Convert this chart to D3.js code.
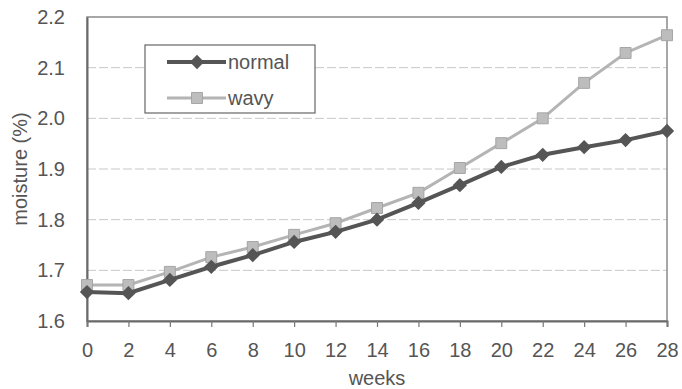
<!DOCTYPE html>
<html>
<head>
<meta charset="utf-8">
<script src="https://cdn.jsdelivr.net/npm/d3@7"></script>
<style>
    body { margin: 0; background: #fff; }
    svg text { font-family: "Liberation Sans", Arial, sans-serif; fill: #555; }
</style>
</head>
<body>
<div id="chart"></div>
<script>

// values
var weeks = [0, 2, 4, 6, 8, 10, 12, 14, 16, 18, 20, 22, 24, 26, 28]

var normal = [1.657, 1.655, 1.681, 1.707, 1.730, 1.756, 1.776, 1.800, 1.833, 1.868, 1.904, 1.928, 1.943, 1.957, 1.975]

var wavy = [1.671, 1.671, 1.697, 1.726, 1.746, 1.770, 1.793, 1.823, 1.853, 1.902, 1.951, 2.000, 2.070, 2.129, 2.164]

var yTicks = [1.6, 1.7, 1.8, 1.9, 2.0, 2.1, 2.2]

var width = 682, height = 389

var margin = { top: 17, right: 15, bottom: 68, left: 87 }

var fontSize = "20px"

var svg = d3.select("#chart").append("svg")
    .attr("width", width)
    .attr("height", height)

var x = d3.scaleLinear()
    .domain([0, 28])
    .range([margin.left, width - margin.right])

var y = d3.scaleLinear()
    .domain([1.6, 2.2])
    .range([height - margin.bottom, margin.top])

// dashed grid
svg.append("g")
    .selectAll("line")
    .data(yTicks.slice(1, -1))
    .join("line")
    .attr("x1", x(0))
    .attr("x2", x(28))
    .attr("y1", d => y(d))
    .attr("y2", d => y(d))
    .attr("stroke", "#c8c8c8")
    .attr("stroke-width", 1)
    .attr("stroke-dasharray", "9,3")

// frame
svg.append("rect")
    .attr("x", x(0))
    .attr("y", y(2.2))
    .attr("width", x(28) - x(0))
    .attr("height", y(1.6) - y(2.2))
    .attr("fill", "none")
    .attr("stroke", "#8a8a8a")
    .attr("stroke-width", 1.5)

var xAxis = svg.append("g")
    .attr("transform", `translate(0,${y(1.6)})`)
    .call(d3.axisBottom(x).tickValues(weeks).tickSize(6).tickPadding(16))

xAxis.select(".domain").attr("stroke", "#6a6a6a").attr("stroke-width", 2)
xAxis.selectAll(".tick line").attr("stroke", "#777").attr("stroke-width", 1.2)
xAxis.selectAll(".tick text").style("font-size", fontSize).attr("fill", "#555")

var yAxis = svg.append("g")
    .attr("transform", `translate(${x(0)},0)`)
    .call(d3.axisLeft(y).tickValues(yTicks).tickFormat(d3.format(".1f")).tickSize(0).tickPadding(22))

yAxis.select(".domain").attr("stroke", "#6a6a6a").attr("stroke-width", 2)
yAxis.selectAll(".tick text").style("font-size", fontSize).attr("fill", "#555")

svg.append("text")
    .attr("transform", `translate(20,${(y(1.6) + y(2.2)) / 2}) rotate(-90)`)
    .attr("text-anchor", "middle")
    .attr("dy", "0.35em")
    .style("font-size", fontSize)
    .text("moisture (%)")

svg.append("text")
    .attr("x", 377)
    .attr("y", 378)
    .attr("text-anchor", "middle")
    .attr("dy", "0.35em")
    .style("font-size", fontSize)
    .text("weeks")

var line = d3.line()
    .x((d, i) => x(weeks[i]))
    .y(d => y(d))

var diamond = d3.symbol().type(d3.symbolDiamond2).size(130)

var square = d3.symbol().type(d3.symbolSquare).size(120)

// wavy series (light grey, squares)
svg.append("path")
    .datum(wavy)
    .attr("d", line)
    .attr("fill", "none")
    .attr("stroke", "#b4b4b4")
    .attr("stroke-width", 3)

svg.append("g")
    .selectAll("path")
    .data(wavy)
    .join("path")
    .attr("d", square)
    .attr("transform", (d, i) => `translate(${x(weeks[i])},${y(d)})`)
    .attr("fill", "#bdbdbd")
    .attr("stroke", "#a5a5a5")
    .attr("stroke-width", 1)

// normal series (dark grey, diamonds)
svg.append("path")
    .datum(normal)
    .attr("d", line)
    .attr("fill", "none")
    .attr("stroke", "#555")
    .attr("stroke-width", 4)

svg.append("g")
    .selectAll("path")
    .data(normal)
    .join("path")
    .attr("d", diamond)
    .attr("transform", (d, i) => `translate(${x(weeks[i])},${y(d)})`)
    .attr("fill", "#555")

// legend
var legend = svg.append("g").attr("transform", "translate(145,45)")

legend.append("rect")
    .attr("width", 170)
    .attr("height", 68)
    .attr("fill", "#fff")
    .attr("stroke", "#666")
    .attr("stroke-width", 1.2)

var entries = [
    { name: "normal", colour: "#555", width: 4, symbol: diamond, fill: "#555", stroke: "none" },
    { name: "wavy", colour: "#b4b4b4", width: 3, symbol: square, fill: "#bdbdbd", stroke: "#a5a5a5" }
]

entries.forEach(function(e, i) {

    var gy = 17 + i * 36

    legend.append("line")
        .attr("x1", 22)
        .attr("x2", 81)
        .attr("y1", gy)
        .attr("y2", gy)
        .attr("stroke", e.colour)
        .attr("stroke-width", e.width)

    legend.append("path")
        .attr("d", e.symbol)
        .attr("transform", `translate(52,${gy})`)
        .attr("fill", e.fill)
        .attr("stroke", e.stroke)

    legend.append("text")
        .attr("x", 83)
        .attr("y", gy)
        .attr("dy", "0.35em")
        .style("font-size", fontSize)
        .text(e.name)

})

</script>
</body>
</html>
